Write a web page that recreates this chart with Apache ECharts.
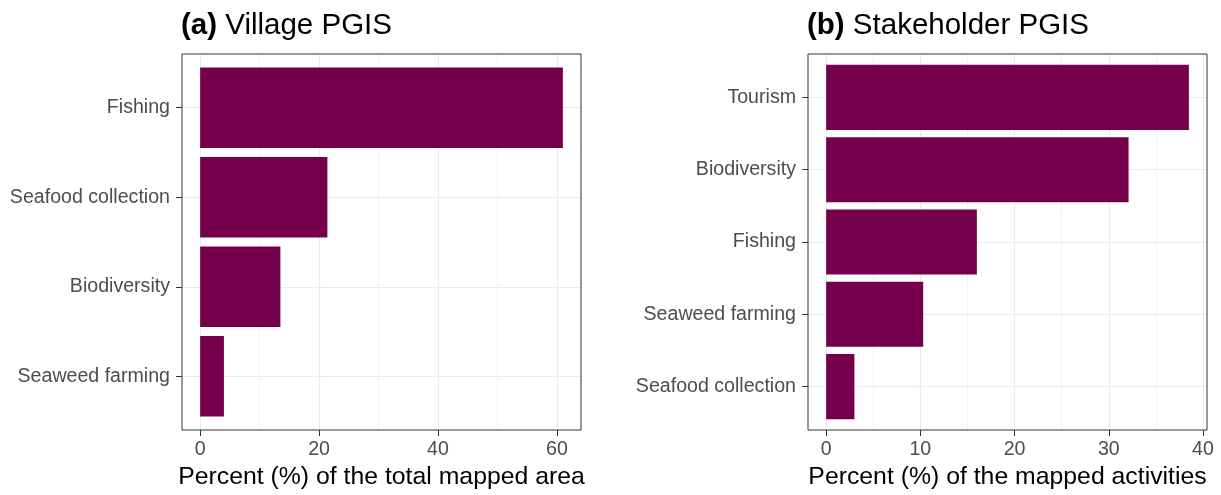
<!DOCTYPE html>
<html><head><meta charset="utf-8">
<script src="https://cdn.jsdelivr.net/npm/echarts@6/dist/echarts.min.js"></script>
<style>html,body{margin:0;padding:0;background:#fff}#c{width:1221px;height:495px}</style>
</head><body><div id="c"></div>
<script>
// Panel (a) Village PGIS
const catsA = ['Fishing', 'Seafood collection', 'Biodiversity', 'Seaweed farming'];
const valsA = [61.0, 21.4, 13.5, 4.0];
const ticksA = [0, 20, 40, 60];
const minorA = [10, 30, 50];
// Panel (b) Stakeholder PGIS
const catsB = ['Tourism', 'Biodiversity', 'Fishing', 'Seaweed farming', 'Seafood collection'];
const valsB = [38.5, 32.1, 16.0, 10.3, 3.0];
const ticksB = [0, 10, 20, 30, 40];
const minorB = [5, 15, 25, 35];

const FONT = '"Liberation Sans", Arial, sans-serif';
const BAR = '#74004b';
const GRID_C = '#ebebeb';

function rangeOf(vals) { const m = Math.max(...vals); return [-0.05 * m, 1.05 * m]; }
const rA = rangeOf(valsA), rB = rangeOf(valsB);

function barItem(params, api) {
  const v = api.value(0), c = api.value(1);
  const p0 = api.coord([0, c - 0.45]);
  const p1 = api.coord([v, c + 0.45]);
  return {
    type: 'rect',
    shape: { x: p0[0], y: Math.min(p0[1], p1[1]), width: p1[0] - p0[0], height: Math.abs(p1[1] - p0[1]) },
    style: { fill: BAR }
  };
}

function xAxes(gi, r, ticks, minor, name) {
  return [{
    type: 'value', gridIndex: gi, min: r[0], max: r[1], name: name,
    nameLocation: 'middle', nameGap: 32,
    nameTextStyle: { fontFamily: FONT, fontSize: 24.8, color: '#000' },
    axisLine: { show: false, onZero: false },
    axisTick: { show: true, length: 6, customValues: ticks, lineStyle: { color: '#333', width: 1 } },
    axisLabel: { customValues: ticks, margin: 10, fontFamily: FONT, fontSize: 19.6, color: '#4d4d4d' },
    splitLine: { show: true, lineStyle: { color: GRID_C, width: 1.1 } }
  }, {
    type: 'value', gridIndex: gi, min: r[0], max: r[1], position: 'bottom',
    axisLine: { show: false, onZero: false }, axisLabel: { show: false },
    axisTick: { show: false, customValues: minor },
    splitLine: { show: true, lineStyle: { color: GRID_C, width: 0.6 } }
  }];
}
function yAxis(gi, cats) {
  const vals = cats.map((c, i) => i + 1);
  return {
    type: 'value', gridIndex: gi, min: 0.4, max: cats.length + 0.6, inverse: true,
    axisLine: { show: false, onZero: false },
    axisTick: { show: true, length: 6, customValues: vals, lineStyle: { color: '#333', width: 1 } },
    axisLabel: { customValues: vals, margin: 12, fontFamily: FONT, fontSize: 19.6, color: '#4d4d4d',
      formatter: v => cats[Math.round(v) - 1] || '' },
    splitLine: { show: true, lineStyle: { color: GRID_C, width: 1.1 } }
  };
}

const chart = echarts.init(document.getElementById('c'), null, { renderer: 'canvas' });
const titleStyle = { fontFamily: FONT, fontSize: 29.5, fontWeight: 'normal', color: '#000',
  rich: { b: { fontFamily: FONT, fontSize: 29.5, fontWeight: 'bold', color: '#000' } } };
chart.setOption({
  animation: false,
  backgroundColor: '#fff',
  title: [
    { text: '{b|(a)} Village PGIS', left: 176, top: 6, textStyle: titleStyle },
    { text: '{b|(b)} Stakeholder PGIS', left: 802, top: 6, textStyle: titleStyle }
  ],
  grid: [
    { left: 182, width: 399, top: 54, height: 376, show: true, borderColor: '#333', borderWidth: 1, backgroundColor: 'transparent', z: 5 },
    { left: 808, width: 399, top: 54, height: 376, show: true, borderColor: '#333', borderWidth: 1, backgroundColor: 'transparent', z: 5 }
  ],
  xAxis: [
    ...xAxes(0, rA, ticksA, minorA, 'Percent (%) of the total mapped area'),
    ...xAxes(1, rB, ticksB, minorB, 'Percent (%) of the mapped activities')
  ],
  yAxis: [yAxis(0, catsA), yAxis(1, catsB)],
  series: [
    { type: 'custom', xAxisIndex: 0, yAxisIndex: 0, renderItem: barItem, z: 3,
      data: valsA.map((v, i) => [v, i + 1]) },
    { type: 'custom', xAxisIndex: 2, yAxisIndex: 1, renderItem: barItem, z: 3,
      data: valsB.map((v, i) => [v, i + 1]) }
  ]
});
</script></body></html>
